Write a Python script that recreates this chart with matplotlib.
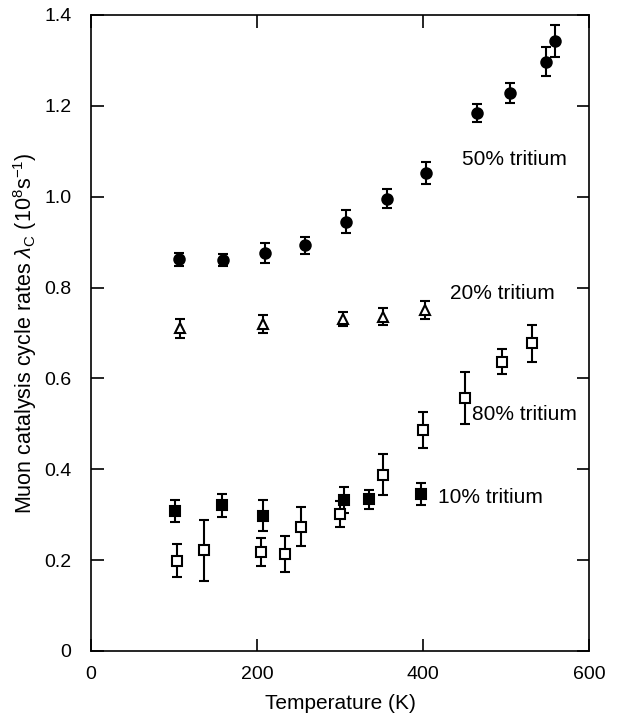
import matplotlib
matplotlib.use("Agg")
import matplotlib.pyplot as plt

plt.rcParams['font.family'] = ['Liberation Sans', 'DejaVu Sans']
plt.rcParams['mathtext.fontset'] = 'custom'
plt.rcParams['mathtext.rm'] = 'Liberation Sans'
plt.rcParams['mathtext.it'] = 'Liberation Sans:italic'

# 50% tritium (filled circles)
t50 = [106, 159, 210, 258, 307, 356, 404, 465, 505, 548, 559]
r50 = [0.862, 0.860, 0.877, 0.893, 0.945, 0.996, 1.053, 1.185, 1.229, 1.297, 1.342]
e50 = [0.015, 0.013, 0.022, 0.019, 0.025, 0.021, 0.024, 0.020, 0.022, 0.032, 0.035]

# 20% tritium (open triangles)
t20 = [107, 207, 304, 352, 402]
r20 = [0.710, 0.719, 0.731, 0.736, 0.750]
e20 = [0.021, 0.020, 0.016, 0.018, 0.020]

# 80% tritium (open squares)
t80 = [103, 136, 205, 234, 253, 300, 352, 400, 450, 495, 531]
r80 = [0.199, 0.222, 0.217, 0.214, 0.273, 0.302, 0.388, 0.486, 0.557, 0.637, 0.677]
e80 = [0.037, 0.067, 0.031, 0.040, 0.043, 0.029, 0.045, 0.040, 0.057, 0.027, 0.041]

# 10% tritium (filled squares)
t10 = [101, 158, 207, 305, 335, 398]
r10 = [0.308, 0.321, 0.298, 0.333, 0.334, 0.346]
e10 = [0.024, 0.025, 0.034, 0.029, 0.021, 0.024]

labels = ["50% tritium", "20% tritium", "80% tritium", "10% tritium"]
label_pos = [(447, 1.081), (432, 0.787), (459, 0.521), (418, 0.338)]

xticks = [0, 200, 400, 600]
yticks = [0, 0.2, 0.4, 0.6, 0.8, 1.0, 1.2, 1.4]
yticklabels = ["0", "0.2", "0.4", "0.6", "0.8", "1.0", "1.2", "1.4"]

fig = plt.figure(figsize=(6.28, 7.23), dpi=100)
ax = fig.add_axes([0.145, 0.0996, 0.793, 0.8797])

ebkw = dict(ls='none', color='black', ecolor='black', elinewidth=1.5,
            capsize=3.8, capthick=1.5, markeredgewidth=1.5)
ax.errorbar(t50, r50, yerr=e50, fmt='o', ms=7.5, mfc='black', mec='black', **ebkw)
ax.errorbar(t20, r20, yerr=e20, fmt='^', ms=6.5, mfc='white', mec='black', **ebkw)
ax.errorbar(t80, r80, yerr=e80, fmt='s', ms=7, mfc='white', mec='black', **ebkw)
ax.errorbar(t10, r10, yerr=e10, fmt='s', ms=7, mfc='black', mec='black', **ebkw)

for lab, (x, y) in zip(labels, label_pos):
    ax.text(x, y, lab, fontsize=15, ha='left', va='center', clip_on=False)

ax.set_xlim(0, 600)
ax.set_ylim(0, 1.4)
ax.set_xticks(xticks)
ax.set_xticklabels([str(v) for v in xticks])
ax.set_yticks(yticks)
ax.set_yticklabels(yticklabels)
ax.tick_params(direction='in', length=9, width=1.2, top=True, right=True,
               labelsize=14)
ax.tick_params(axis='y', pad=14)
ax.tick_params(axis='x', pad=11)
for s in ax.spines.values():
    s.set_linewidth(1.2)

ax.set_xlabel('Temperature (K)', fontsize=15, labelpad=8)
ax.set_ylabel(r'Muon catalysis cycle rates $\lambda_\mathrm{C}$ (10$^8$s$^{-1}$)',
              fontsize=15.5, labelpad=4)

fig.savefig('out.png', dpi=100)
